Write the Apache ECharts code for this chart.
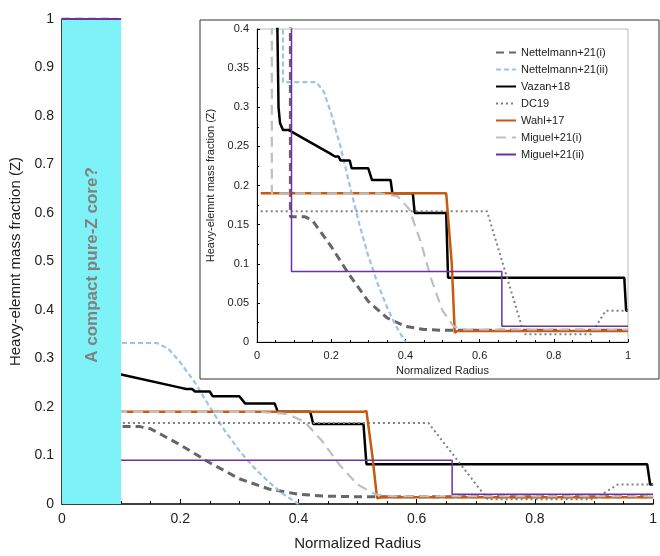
<!DOCTYPE html>
<html><head><meta charset="utf-8">
<script src="https://cdn.jsdelivr.net/npm/echarts@6/dist/echarts.min.js"></script>
<style>body{margin:0}#main{width:660px;height:556px}</style>
</head><body><div id="main"></div>
<script>
// profiles: [normalized radius, Z]
var nettelmann1 = [[0,1],[0.09,1],[0.09,0.16],[0.13,0.16],[0.15,0.155],[0.2,0.122],[0.25,0.085],[0.3,0.052],[0.35,0.031],[0.4,0.02],[0.45,0.016],[0.5,0.015],[1,0.015]];
var nettelmann2 = [[0,1],[0.07,1],[0.07,0.332],[0.16,0.332],[0.18,0.32],[0.2,0.292],[0.225,0.25],[0.25,0.2],[0.275,0.152],[0.3,0.11],[0.325,0.075],[0.35,0.045],[0.375,0.02],[0.4,0]];
var vazan = [[0.05,1],[0.055,0.4],[0.058,0.3],[0.062,0.28],[0.07,0.271],[0.085,0.271],[0.1,0.267],[0.2,0.24],[0.21,0.237],[0.22,0.237],[0.225,0.232],[0.25,0.232],[0.255,0.222],[0.3,0.222],[0.31,0.207],[0.36,0.207],[0.365,0.19],[0.42,0.19],[0.425,0.165],[0.51,0.165],[0.515,0.082],[0.99,0.082],[0.995,0.04],[1,0.04]];
var dc19 = [[0.01,0.167],[0.62,0.167],[0.72,0.01],[0.9,0.01],[0.94,0.04],[1,0.04]];
var wahl = [[0.01,0.19],[0.51,0.19],[0.515,0.192],[0.525,0.1],[0.533,0.012],[0.54,0.014],[1,0.014]];
var miguel1 = [[0,1],[0.04,1],[0.04,0.19],[0.33,0.19],[0.38,0.186],[0.41,0.17],[0.44,0.13],[0.47,0.08],[0.5,0.04],[0.53,0.02],[0.56,0.016],[1,0.016]];
var miguel2 = [[0,1],[0.093,1],[0.093,0.09],[0.66,0.09],[0.66,0.02],[1,0.02]];

var names = ['Nettelmann+21(i)','Nettelmann+21(ii)','Vazan+18','DC19','Wahl+17','Miguel+21(i)','Miguel+21(ii)'];
var profiles = [nettelmann1, nettelmann2, vazan, dc19, wahl, miguel1, miguel2];
var styles = [
  {color:'#666666', width:3, type:[8,5]},
  {color:'#9dc3e6', width:2.2, type:[5,3]},
  {color:'#000000', width:2.5, type:'solid'},
  {color:'#808080', width:2, type:[2,3]},
  {color:'#c55a11', width:2.5, type:'solid'},
  {color:'#bfbfbf', width:2.2, type:[10,6]},
  {color:'#7030a0', width:1.5, type:'solid'}
];
var coreEdge = 0.1;

var series = [];
profiles.forEach(function (p, i) {
  var base = {type:'line', showSymbol:false, symbol:'none', silent:true,
    lineStyle:styles[i], itemStyle:{color:styles[i].color}};
  series.push(Object.assign({}, base, {name:names[i], xAxisIndex:1, yAxisIndex:1, data:p, z:10}));
  series.push(Object.assign({}, base, {name:'m'+i, xAxisIndex:0, yAxisIndex:0, data:p, z:2}));
});
// core overlay on main chart
series.push({type:'line', xAxisIndex:0, yAxisIndex:0, data:[[0,0]], symbol:'none', lineStyle:{opacity:0}, z:4, silent:true,
  markArea:{silent:true, z:4, itemStyle:{color:'#7ef3f7', opacity:1}, data:[[{xAxis:0, yAxis:0},{xAxis:coreEdge, yAxis:1}]]},
  markLine:{silent:true, z:5, symbol:'none', label:{show:false}, lineStyle:{color:'#7030a0', width:2, type:'solid'},
    data:[[{coord:[0,1]},{coord:[coreEdge,1]}]]}
});

var chart = echarts.init(document.getElementById('main'));
chart.setOption({
  animation:false,
  backgroundColor:'#fff',
  textStyle:{fontFamily:'Liberation Sans, Arial'},
  grid:[
    {left:62, right:5, top:19, bottom:49},
    {left:257, right:32, top:29, bottom:214, z:8}
  ],
  xAxis:[
    {type:'value', gridIndex:0, min:0, max:1, interval:0.2, name:'Normalized Radius', nameLocation:'middle', nameGap:32,
     nameTextStyle:{fontSize:15, color:'#222'}, axisLine:{lineStyle:{color:'#000', width:1.5}},
     axisTick:{show:true, inside:true, length:5, lineStyle:{color:'#000'}}, minorTick:{show:true, splitNumber:4, length:3, lineStyle:{color:'#000'}},
     splitLine:{show:false}, axisLabel:{fontSize:14, color:'#222'}},
    {type:'value', gridIndex:1, z:8, min:0, max:1, interval:0.2, name:'Normalized Radius', nameLocation:'middle', nameGap:20,
     nameTextStyle:{fontSize:11, color:'#222'}, axisLine:{lineStyle:{color:'#000'}},
     axisTick:{show:true, inside:true, length:3, lineStyle:{color:'#000'}}, minorTick:{show:true, splitNumber:4, length:2},
     splitLine:{show:false}, axisLabel:{fontSize:11, color:'#222'}}
  ],
  yAxis:[
    {type:'value', gridIndex:0, min:0, max:1, interval:0.1, name:'Heavy-elemnt mass fraction (Z)', nameLocation:'middle', nameGap:32,
     nameTextStyle:{fontSize:15, color:'#222'}, axisLine:{show:true, lineStyle:{color:'#000', width:1.5}},
     axisTick:{show:false}, splitLine:{show:false}, axisLabel:{fontSize:14, color:'#222'}},
    {type:'value', gridIndex:1, z:8, min:0, max:0.4, interval:0.05, name:'Heavy-elemnt mass fraction (Z)', nameLocation:'middle', nameGap:28,
     nameTextStyle:{fontSize:11, color:'#222'}, axisLine:{show:true, lineStyle:{color:'#000'}},
     axisTick:{show:true, inside:true, length:3}, minorTick:{show:true, splitNumber:2, length:2},
     splitLine:{show:false}, axisLabel:{fontSize:11, color:'#222'}}
  ],
  legend:{data:names, orient:'vertical', left:490, top:42, itemGap:6, itemWidth:20, itemHeight:8, z:12,
    itemStyle:{opacity:0}, textStyle:{fontSize:11, color:'#222'}, selectedMode:false},
  graphic:[
    {type:'rect', shape:{x:200, y:20, width:459, height:359}, style:{fill:'#fff', stroke:'#333', lineWidth:1}, z:6},
    {type:'rect', shape:{x:257, y:29, width:371, height:313}, style:{fill:'none', stroke:'#bbb', lineWidth:1}, z:7},
    {type:'text', x:92, y:265, rotation:Math.PI/2, z:50,
     style:{text:'A compact pure-Z core?', fill:'#808080', font:'bold 17px Liberation Sans, Arial', align:'center', verticalAlign:'middle'}}
  ],
  series:series
});
</script></body></html>
